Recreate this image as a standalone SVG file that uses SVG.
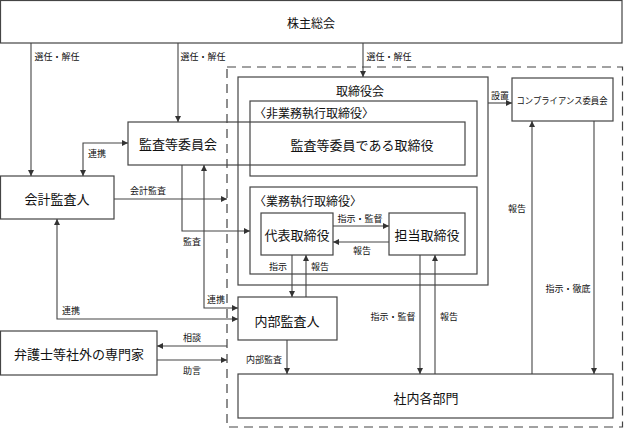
<svg xmlns="http://www.w3.org/2000/svg" width="624" height="430" viewBox="0 0 624 430">
<defs>
<marker id="ah" viewBox="0 0 10 10" refX="10" refY="5" markerWidth="6" markerHeight="6" markerUnits="userSpaceOnUse" orient="auto-start-reverse">
<path d="M0,0 L10,5 L0,10 z" fill="#333"/>
</marker>
<style>
.box{fill:none;stroke:#444;stroke-width:1.2}
.dash{fill:none;stroke:#444;stroke-width:1.2;stroke-dasharray:9 6}
.t{font-family:"Noto Sans CJK JP","Noto Sans",sans-serif;font-size:13px;fill:#111;text-anchor:middle;dominant-baseline:central}
.tl{font-family:"Noto Sans CJK JP","Noto Sans",sans-serif;font-size:12px;fill:#111;dominant-baseline:central}
.s{font-family:"Noto Sans CJK JP","Noto Sans",sans-serif;font-size:9px;fill:#111;text-anchor:middle;dominant-baseline:central}
.c{fill:none;stroke:#444;stroke-width:1.1}
.a{marker-end:url(#ah)}
.b{marker-start:url(#ah);marker-end:url(#ah)}
</style>
</defs>
<rect width="624" height="430" fill="#fff"/>
<rect class="dash" x="227" y="67" width="395.5" height="360"/>
<g id="kabunushi"><rect class="box" x="0.5" y="0.5" width="621.5" height="42.5"/><text class="t" x="311" y="22" style="font-size:12px">株主総会</text></g>
<g id="torishimariyakukai"><rect class="box" x="238" y="77" width="250" height="208"/><text class="t" x="360" y="90" style="font-size:12px">取締役会</text></g>
<g id="higyomu"><rect class="box" x="250" y="101" width="227" height="75"/><text class="tl" x="254" y="112">〈非業務執行取締役〉</text></g>
<g id="kansatou"><rect class="box" x="128" y="122" width="337" height="43"/><text class="t" x="178" y="143">監査等委員会</text><text class="t" x="362" y="144">監査等委員である取締役</text></g>
<g id="gyomu"><rect class="box" x="250" y="187" width="227" height="87"/><text class="tl" x="254" y="200">〈業務執行取締役〉</text></g>
<g id="daihyo"><rect class="box" x="261" y="213" width="72" height="42"/><text class="t" x="297" y="234">代表取締役</text></g>
<g id="tanto"><rect class="box" x="389" y="213" width="76" height="42"/><text class="t" x="427" y="234">担当取締役</text></g>
<g id="compliance"><rect class="box" x="512" y="78" width="101" height="43"/><text class="s" x="562" y="100" textLength="91" lengthAdjust="spacingAndGlyphs">コンプライアンス委員会</text></g>
<g id="kaikei"><rect class="box" x="0.5" y="176" width="113.5" height="43"/><text class="t" x="57" y="198">会計監査人</text></g>
<g id="naibu"><rect class="box" x="238" y="297" width="99" height="43"/><text class="t" x="287" y="320">内部監査人</text></g>
<g id="bengoshi"><rect class="box" x="0.5" y="331" width="156.5" height="44"/><text class="t" x="79" y="353">弁護士等社外の専門家</text></g>
<g id="shanai"><rect class="box" x="238" y="374" width="375" height="44"/><text class="t" x="426" y="397">社内各部門</text></g>
<g id="connectors">
<path class="c a" d="M31,43 V176"/>
<path class="c a" d="M178,43 V122"/>
<path class="c a" d="M363,43 V77"/>
<path class="c a" d="M488,103 H512"/>
<path class="c b" d="M128,143 H83 V176"/>
<path class="c a" d="M114,199 H227"/>
<path class="c a" d="M182,165 V231 H250"/>
<path class="c b" d="M204,165 V308 H238"/>
<path class="c b" d="M57,219 V319 H238"/>
<path class="c a" d="M333,226 H389"/>
<path class="c a" d="M389,242 H333"/>
<path class="c a" d="M292,255 V297"/>
<path class="c a" d="M306,297 V255"/>
<path class="c a" d="M227,346 H157"/>
<path class="c a" d="M157,360 H227"/>
<path class="c a" d="M287,340 V374"/>
<path class="c a" d="M420,255 V374"/>
<path class="c a" d="M435,374 V255"/>
<path class="c a" d="M532,374 V121"/>
<path class="c a" d="M594,121 V374"/>
<text class="s" x="57" y="56">選任・解任</text>
<text class="s" x="203" y="56">選任・解任</text>
<text class="s" x="389" y="56">選任・解任</text>
<text class="s" x="500" y="95">設置</text>
<text class="s" x="97" y="153">連携</text>
<text class="s" x="148" y="190">会計監査</text>
<text class="s" x="192" y="241">監査</text>
<text class="s" x="216" y="299">連携</text>
<text class="s" x="71" y="310">連携</text>
<text class="s" x="360" y="218">指示・監督</text>
<text class="s" x="362" y="250">報告</text>
<text class="s" x="278" y="266">指示</text>
<text class="s" x="320" y="266">報告</text>
<text class="s" x="192" y="337">相談</text>
<text class="s" x="192" y="370">助言</text>
<text class="s" x="264" y="359">内部監査</text>
<text class="s" x="393" y="316">指示・監督</text>
<text class="s" x="449" y="316">報告</text>
<text class="s" x="517" y="208">報告</text>
<text class="s" x="568" y="288">指示・徹底</text>
</g>
</svg>
